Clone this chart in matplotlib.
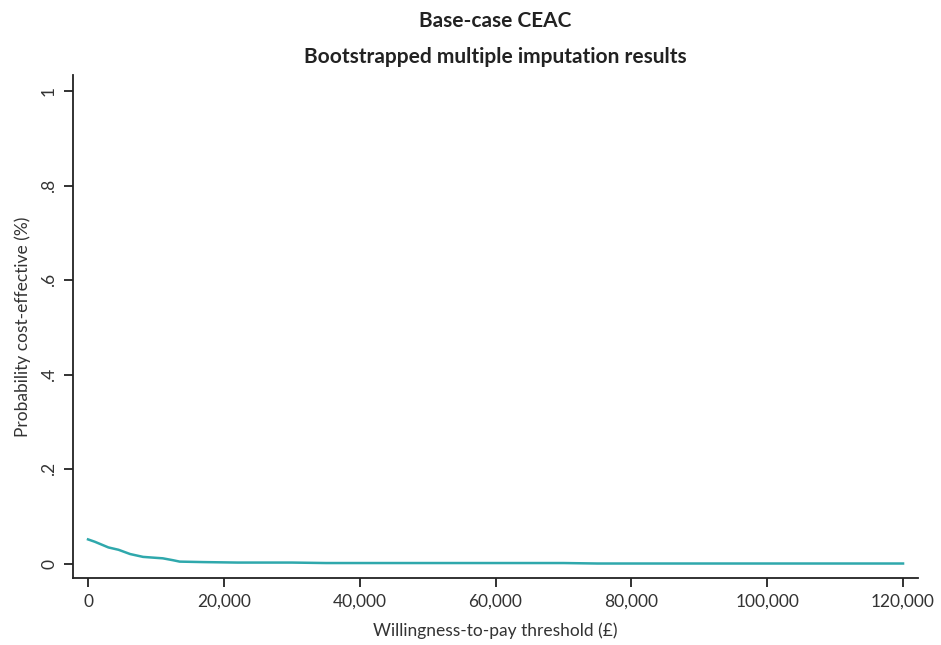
import matplotlib.pyplot as plt
from matplotlib.ticker import FuncFormatter

plt.rcParams['font.family'] = ['Lato', 'DejaVu Sans']

wtp = [0, 1000, 2000, 3000, 4500, 6200, 8100, 10000, 11000, 12500, 13500,
       17000, 22000, 30000, 35000, 50000, 70000, 75000, 90000, 120000]
prob = [0.052, 0.047, 0.041, 0.035, 0.030, 0.021, 0.015, 0.013, 0.012, 0.008, 0.005,
        0.004, 0.003, 0.003, 0.002, 0.002, 0.002, 0.001, 0.001, 0.001]

xticks = [0, 20000, 40000, 60000, 80000, 100000, 120000]
yticks = [0, 0.2, 0.4, 0.6, 0.8, 1]
ylabels = ['0', '.2', '.4', '.6', '.8', '1']

fig = plt.figure(figsize=(9.41, 6.45), dpi=100)
ax = fig.add_axes([0.0776, 0.1039, 0.898, 0.7798])

ax.plot(wtp, prob, color='#2FA8AC', lw=1.8)

ax.set_xlim(-2209, 122209)
ax.set_ylim(-0.0296, 1.0338)
ax.spines['top'].set_visible(False)
ax.spines['right'].set_visible(False)
for s in ['left', 'bottom']:
    ax.spines[s].set_linewidth(1.3)
    ax.spines[s].set_color('#222222')

ax.set_xticks(xticks)
ax.xaxis.set_major_formatter(FuncFormatter(lambda v, p: f'{int(v):,}'))
ax.set_yticks(yticks)
ax.set_yticklabels(ylabels, rotation=90, va='center')
ax.tick_params(direction='out', length=6.5, width=1.3, color='#222222',
               labelsize=12.5, labelcolor='#333333', pad=5)

ax.set_xlabel('Willingness-to-pay threshold (£)', fontsize=12.5, color='#333333', labelpad=9)
ax.set_ylabel('Probability cost-effective (%)', fontsize=12.5, color='#333333', labelpad=7)

# titles centred over the plot region
cx = 0.0776 + 0.898 / 2
fig.text(cx, 0.968, 'Base-case CEAC', ha='center', va='center',
         fontsize=15, fontweight='bold', color='#222222')
fig.text(cx, 0.911, 'Bootstrapped multiple imputation results', ha='center', va='center',
         fontsize=15, fontweight='bold', color='#222222')

fig.savefig('out.png', dpi=100)
